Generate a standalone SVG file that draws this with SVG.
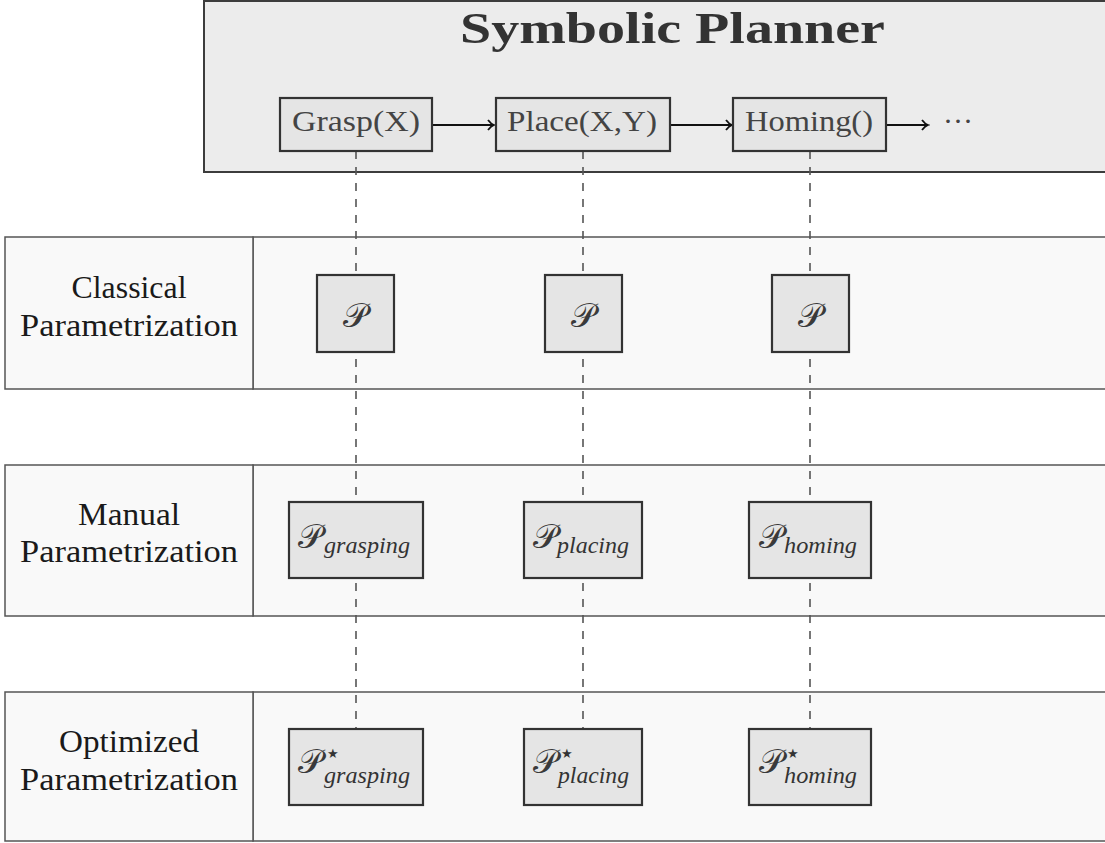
<svg xmlns="http://www.w3.org/2000/svg" width="1105" height="843" viewBox="0 0 1105 843">
  <style>
    .planner { fill: #ececec; stroke: #3c3c3c; stroke-width: 2; }
    .band { fill: #f9f9f9; stroke: #555; stroke-width: 1.5; }
    .node { fill: #e5e5e5; stroke: #333; stroke-width: 2.2; }
    .title { font-family: "Liberation Serif", serif; font-weight: bold; font-size: 45px; fill: #333; }
    .act { font-family: "Liberation Serif", serif; font-size: 30px; fill: #444; }
    .lbl { font-family: "Liberation Serif", serif; font-size: 31px; fill: #1a1a1a; text-anchor: middle; }
    .cal { font-family: "DejaVu Serif", "Liberation Serif", serif; font-size: 34px; fill: #3a3a3a; }
    .sub { font-family: "Liberation Serif", serif; font-style: italic; font-size: 23px; fill: #333; }
    .star { font-family: "DejaVu Sans", sans-serif; font-size: 13px; fill: #333; }
    .dash { stroke: #555; stroke-width: 1.6; stroke-dasharray: 8 8; fill: none; }
    .flow { stroke: #111; stroke-width: 2; fill: none; marker-end: url(#to); }
  </style>
  <defs>
    <marker id="to" markerWidth="10" markerHeight="12" refX="8" refY="6" orient="auto" markerUnits="userSpaceOnUse">
      <path d="M2,1 Q5,5 8,6 Q5,7 2,11" fill="none" stroke="#111" stroke-width="1.8"/>
    </marker>
  </defs>

  <!-- planner panel -->
  <g id="symbolic-planner">
    <rect class="planner" x="204" y="1" width="920" height="171"/>
    <text class="title" x="460" y="43" textLength="425" lengthAdjust="spacingAndGlyphs">Symbolic Planner</text>
  </g>

  <!-- parametrization rows -->
  <g id="row-classical">
    <rect class="band" x="253" y="237" width="870" height="152"/>
    <rect class="band" x="5" y="237" width="248" height="152"/>
    <text class="lbl" x="129" y="298" textLength="115" lengthAdjust="spacingAndGlyphs">Classical</text>
    <text class="lbl" x="129" y="336" textLength="218" lengthAdjust="spacingAndGlyphs">Parametrization</text>
  </g>
  <g id="row-manual">
    <rect class="band" x="253" y="465" width="870" height="151"/>
    <rect class="band" x="5" y="465" width="248" height="151"/>
    <text class="lbl" x="129" y="525" textLength="102" lengthAdjust="spacingAndGlyphs">Manual</text>
    <text class="lbl" x="129" y="562" textLength="218" lengthAdjust="spacingAndGlyphs">Parametrization</text>
  </g>
  <g id="row-optimized">
    <rect class="band" x="253" y="692" width="870" height="149"/>
    <rect class="band" x="5" y="692" width="248" height="149"/>
    <text class="lbl" x="129" y="752" textLength="140" lengthAdjust="spacingAndGlyphs">Optimized</text>
    <text class="lbl" x="129" y="790" textLength="218" lengthAdjust="spacingAndGlyphs">Parametrization</text>
  </g>

  <!-- connectors -->
  <g id="connectors">
    <line class="dash" x1="356" y1="151" x2="356" y2="729"/>
    <line class="dash" x1="583" y1="151" x2="583" y2="729"/>
    <line class="dash" x1="810" y1="151" x2="810" y2="729"/>
    <line class="flow" x1="432" y1="125" x2="494" y2="125"/>
    <line class="flow" x1="670" y1="125" x2="732" y2="125"/>
    <line class="flow" x1="886" y1="125" x2="928" y2="125"/>
  </g>

  <!-- planner actions -->
  <g id="grasp">
    <rect class="node" x="280" y="98" width="152" height="53"/>
    <text class="act" x="292" y="131" textLength="128" lengthAdjust="spacingAndGlyphs">Grasp(X)</text>
  </g>
  <g id="place">
    <rect class="node" x="496" y="98" width="174" height="53"/>
    <text class="act" x="507" y="131" textLength="150" lengthAdjust="spacingAndGlyphs">Place(X,Y)</text>
  </g>
  <g id="homing">
    <rect class="node" x="733" y="98" width="153" height="53"/>
    <text class="act" x="745" y="131" textLength="128" lengthAdjust="spacingAndGlyphs">Homing()</text>
  </g>
  <g id="ellipsis">
    <text class="act" x="943" y="131" textLength="30" lengthAdjust="spacing">···</text>
  </g>

  <!-- classical parameters -->
  <g id="p-classical-grasp">
    <rect class="node" x="317" y="275" width="77" height="77"/>
    <text class="cal" x="355.5" y="327" text-anchor="middle">𝒫</text>
  </g>
  <g id="p-classical-place">
    <rect class="node" x="545" y="275" width="77" height="77"/>
    <text class="cal" x="583.5" y="327" text-anchor="middle">𝒫</text>
  </g>
  <g id="p-classical-homing">
    <rect class="node" x="772" y="275" width="77" height="77"/>
    <text class="cal" x="810.5" y="327" text-anchor="middle">𝒫</text>
  </g>

  <!-- manual parameters -->
  <g id="p-manual-grasp">
    <rect class="node" x="289" y="502" width="134" height="76"/>
    <text class="cal" x="298" y="548">𝒫</text>
    <text class="sub" x="324" y="553" textLength="86" lengthAdjust="spacingAndGlyphs">grasping</text>
  </g>
  <g id="p-manual-place">
    <rect class="node" x="524" y="502" width="118" height="76"/>
    <text class="cal" x="533" y="548">𝒫</text>
    <text class="sub" x="557" y="553" textLength="72" lengthAdjust="spacingAndGlyphs">placing</text>
  </g>
  <g id="p-manual-homing">
    <rect class="node" x="749" y="502" width="122" height="76"/>
    <text class="cal" x="759" y="548">𝒫</text>
    <text class="sub" x="784" y="553" textLength="73" lengthAdjust="spacingAndGlyphs">homing</text>
  </g>

  <!-- optimized parameters -->
  <g id="p-opt-grasp">
    <rect class="node" x="289" y="729" width="134" height="76"/>
    <text class="cal" x="298" y="773">𝒫</text>
    <text class="star" x="327" y="758">★</text>
    <text class="sub" x="324" y="783" textLength="86" lengthAdjust="spacingAndGlyphs">grasping</text>
  </g>
  <g id="p-opt-place">
    <rect class="node" x="524" y="729" width="118" height="76"/>
    <text class="cal" x="533" y="773">𝒫</text>
    <text class="star" x="561" y="758">★</text>
    <text class="sub" x="558" y="783" textLength="71" lengthAdjust="spacingAndGlyphs">placing</text>
  </g>
  <g id="p-opt-homing">
    <rect class="node" x="749" y="729" width="122" height="76"/>
    <text class="cal" x="759" y="773">𝒫</text>
    <text class="star" x="787" y="758">★</text>
    <text class="sub" x="784" y="783" textLength="73" lengthAdjust="spacingAndGlyphs">homing</text>
  </g>
</svg>
